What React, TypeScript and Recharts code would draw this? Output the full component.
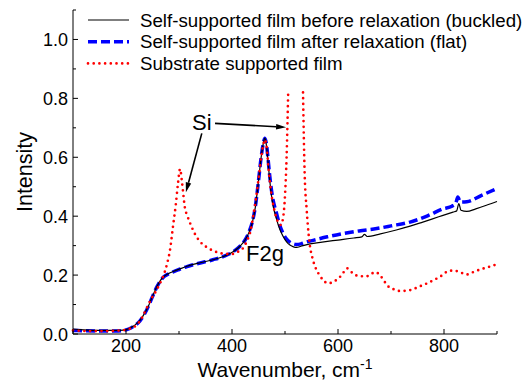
import React from "react";
import {
  LineChart,
  Line,
  XAxis,
  YAxis,
  Legend,
  ReferenceLine,
  ReferenceDot,
} from "recharts";

const FONT = "'Liberation Sans', Arial, Helvetica, sans-serif";

// [wavenumber (cm-1), intensity]
const buckled: [number, number][] = [
  [100, 0.017], [120, 0.014], [150, 0.012], [180, 0.012], [195, 0.013],
  [205, 0.018], [215, 0.028], [226, 0.045], [235, 0.07], [243, 0.098],
  [250, 0.128], [258, 0.16], [265, 0.182], [272, 0.196], [280, 0.205],
  [290, 0.213], [300, 0.22], [315, 0.23], [340, 0.242], [364, 0.252],
  [385, 0.264], [402, 0.279], [415, 0.298], [425, 0.32], [432, 0.345],
  [438, 0.376], [444, 0.43], [450, 0.52], [455, 0.6], [460, 0.655],
  [462, 0.665], [465, 0.64], [468, 0.585], [471, 0.525], [476, 0.45],
  [484, 0.39], [490, 0.356], [496, 0.333], [503, 0.313], [510, 0.301],
  [516, 0.296], [522, 0.294], [530, 0.298], [547, 0.306], [570, 0.312],
  [600, 0.319], [630, 0.326], [645, 0.33], [650, 0.338], [655, 0.331],
  [680, 0.34], [710, 0.353], [736, 0.366], [760, 0.38], [790, 0.398],
  [817, 0.414], [824, 0.418], [828, 0.443], [832, 0.42], [843, 0.416],
  [860, 0.425], [880, 0.437], [900, 0.45],
];

const flat: [number, number][] = [
  [100, 0.012], [120, 0.011], [150, 0.01], [180, 0.01], [195, 0.012],
  [205, 0.017], [215, 0.027], [226, 0.044], [235, 0.068], [243, 0.097],
  [250, 0.127], [258, 0.159], [265, 0.181], [272, 0.195], [280, 0.204],
  [290, 0.212], [300, 0.219], [315, 0.229], [340, 0.241], [364, 0.252],
  [385, 0.264], [402, 0.279], [415, 0.298], [425, 0.32], [432, 0.346],
  [438, 0.378], [444, 0.432], [450, 0.52], [455, 0.6], [460, 0.655],
  [462, 0.665], [465, 0.645], [468, 0.595], [471, 0.54], [476, 0.47],
  [484, 0.41], [490, 0.37], [496, 0.343], [503, 0.322], [510, 0.311],
  [516, 0.306], [522, 0.304], [530, 0.306], [540, 0.312], [553, 0.318],
  [580, 0.33], [610, 0.341], [640, 0.35], [673, 0.358], [700, 0.367],
  [736, 0.38], [770, 0.402], [798, 0.425], [815, 0.434], [822, 0.443],
  [826, 0.465], [831, 0.448], [843, 0.449], [870, 0.47], [900, 0.494],
];

// the Si line near 520 runs off scale, so it is left open
const substrate: [number, number | null][] = [
  [100, 0.012], [130, 0.01], [160, 0.01], [190, 0.012], [205, 0.017],
  [220, 0.03], [230, 0.055], [239, 0.088], [248, 0.12], [258, 0.15],
  [265, 0.175], [270, 0.195], [277, 0.235], [283, 0.285], [289, 0.37],
  [294, 0.44], [298, 0.51], [302, 0.56], [306, 0.51], [311, 0.43],
  [316, 0.4], [321, 0.376], [330, 0.34], [340, 0.313], [352, 0.295],
  [364, 0.283], [377, 0.275], [390, 0.272], [402, 0.272], [412, 0.28],
  [421, 0.292], [428, 0.315], [435, 0.35], [440, 0.4], [446, 0.47],
  [451, 0.54], [456, 0.61], [460, 0.65], [462, 0.66], [465, 0.64],
  [469, 0.56], [474, 0.48], [480, 0.42], [487, 0.38], [492, 0.37],
  [496, 0.39], [500, 0.47], [503, 0.6], [506, 0.82], [520, null],
  [534, 0.82], [537, 0.55], [541, 0.42], [545, 0.33], [553, 0.25],
  [557, 0.228], [565, 0.2], [572, 0.183], [581, 0.172], [594, 0.18],
  [607, 0.2], [617, 0.223], [628, 0.206], [641, 0.196], [654, 0.196],
  [662, 0.203], [670, 0.21], [679, 0.2], [687, 0.18], [694, 0.163],
  [705, 0.152], [717, 0.146], [736, 0.149], [752, 0.16], [768, 0.172],
  [792, 0.194], [811, 0.215], [820, 0.215], [830, 0.21], [843, 0.202],
  [855, 0.21], [868, 0.219], [885, 0.228], [900, 0.237],
];

const seriesNames = [
  "Self-supported film before relaxation (buckled)",
  "Self-supported film after relaxation (flat)",
  "Substrate supported film",
];

const xTicks = [100, 200, 300, 400, 500, 600, 700, 800, 900];
const xLabels = [200, 400, 600, 800];
const yTicks = [0, 0.1, 0.2, 0.3, 0.4, 0.5, 0.6, 0.7, 0.8, 0.9, 1.0, 1.1];
const yLabels = [0, 0.2, 0.4, 0.6, 0.8, 1.0];

const toRows = (pts: [number, number | null][]) =>
  pts.map(([x, y]) => ({ x, y }));

const styles = [
  { stroke: "#000000", strokeWidth: 1.2, dash: undefined, cap: "butt" },
  { stroke: "#0000ff", strokeWidth: 3.5, dash: "9 4", cap: "butt" },
  { stroke: "#ff0000", strokeWidth: 2.7, dash: "0 5.7", cap: "round" },
] as const;

function XTick({ x, y, payload }: any) {
  const major = xLabels.includes(payload.value);
  return (
    <g>
      <line x1={x} x2={x} y1={y} y2={y - (major ? 5 : 3)} stroke="#000" />
      {major && (
        <text x={x} y={y + 18} textAnchor="middle" fontSize={18} fontFamily={FONT} fill="#000">
          {payload.value}
        </text>
      )}
    </g>
  );
}

function YTick({ x, y, payload }: any) {
  const major = yLabels.some((v) => Math.abs(v - payload.value) < 1e-6);
  return (
    <g>
      <line x1={x} x2={x + (major ? 5 : 3)} y1={y} y2={y} stroke="#000" />
      {major && (
        <text x={x - 5} y={y + 6.5} textAnchor="end" fontSize={18} fontFamily={FONT} fill="#000">
          {payload.value.toFixed(1)}
        </text>
      )}
    </g>
  );
}

function LegendBox() {
  return (
    <svg width={530} height={80} style={{ display: "block" }}>
      {seriesNames.map((name, i) => {
        const s = styles[i];
        const cy = 20 + i * 21.7;
        return (
          <g key={name}>
            <line
              x1={88}
              x2={129}
              y1={cy}
              y2={cy}
              stroke={s.stroke}
              strokeWidth={s.strokeWidth}
              strokeDasharray={s.dash}
              strokeLinecap={s.cap}
            />
            <text x={140} y={cy + 6.6} fontSize={18.7} fontFamily={FONT} fill="#000">
              {name}
            </text>
          </g>
        );
      })}
    </svg>
  );
}

function Arrow(props: any) {
  const { x1, y1, x2, y2 } = props;
  const a = Math.atan2(y2 - y1, x2 - x1);
  const len = 10;
  const half = 2.8;
  const bx = x2 - len * Math.cos(a);
  const by = y2 - len * Math.sin(a);
  const pts = [
    `${x2},${y2}`,
    `${bx - half * Math.sin(a)},${by + half * Math.cos(a)}`,
    `${bx + half * Math.sin(a)},${by - half * Math.cos(a)}`,
  ].join(" ");
  return (
    <g>
      <line x1={x1} y1={y1} x2={bx} y2={by} stroke="#000" strokeWidth={1.6} />
      <polygon points={pts} fill="#000" />
    </g>
  );
}

const annotation = (label: string) => (p: any) => (
  <text x={p.cx} y={p.cy} fontSize={22} fontFamily={FONT} fill="#000">
    {label}
  </text>
);

export default function App() {
  return (
    <div style={{ position: "fixed", left: 0, top: 0, background: "#fff" }}>
      <LineChart
        width={530}
        height={384}
        margin={{ top: 10, right: 33, bottom: 0, left: 0 }}
      >
        <XAxis
          dataKey="x"
          type="number"
          domain={[100, 900]}
          ticks={xTicks}
          interval={0}
          height={50}
          tickSize={0}
          tickMargin={0}
          tickLine={false}
          axisLine={{ stroke: "#000", strokeWidth: 1 }}
          tick={<XTick />}
          allowDuplicatedCategory={false}
          label={{
            content: ({ viewBox }: any) => (
              <text
                x={viewBox.x + viewBox.width / 2}
                y={viewBox.y + 43}
                textAnchor="middle"
                fontSize={21}
                fontFamily={FONT}
                fill="#000"
              >
                <tspan>Wavenumber, cm</tspan>
                <tspan dy={-8} fontSize={14}>-1</tspan>
              </text>
            ),
          }}
        />
        <YAxis
          type="number"
          domain={[0, 1.1]}
          ticks={yTicks}
          interval={0}
          width={73}
          tickSize={0}
          tickMargin={0}
          tickLine={false}
          axisLine={{ stroke: "#000", strokeWidth: 1 }}
          tick={<YTick />}
          label={{
            content: ({ viewBox }: any) => {
              const cx = viewBox.x + 31.5;
              const cy = viewBox.y + viewBox.height / 2;
              return (
                <text
                  x={cx}
                  y={cy}
                  transform={`rotate(-90 ${cx} ${cy})`}
                  textAnchor="middle"
                  fontSize={21.5}
                  fontFamily={FONT}
                  fill="#000"
                >
                  Intensity
                </text>
              );
            },
          }}
        />
        <Legend
          layout="vertical"
          align="center"
          verticalAlign="middle"
          wrapperStyle={{ top: 0, left: 0, width: 530, height: 80 }}
          content={() => <LegendBox />}
        />
        <Line
          data={toRows(flat)}
          dataKey="y"
          name={seriesNames[1]}
          type="monotone"
          stroke={styles[1].stroke}
          strokeWidth={styles[1].strokeWidth}
          strokeDasharray={styles[1].dash}
          dot={false}
          activeDot={false}
          isAnimationActive={false}
        />
        <Line
          data={toRows(buckled)}
          dataKey="y"
          name={seriesNames[0]}
          type="monotone"
          stroke={styles[0].stroke}
          strokeWidth={styles[0].strokeWidth}
          dot={false}
          activeDot={false}
          isAnimationActive={false}
        />
        <Line
          data={toRows(substrate)}
          dataKey="y"
          name={seriesNames[2]}
          type="monotone"
          stroke={styles[2].stroke}
          strokeWidth={styles[2].strokeWidth}
          strokeDasharray={styles[2].dash}
          strokeLinecap="round"
          connectNulls={false}
          dot={false}
          activeDot={false}
          isAnimationActive={false}
        />
        <ReferenceLine
          segment={[{ x: 368, y: 0.715 }, { x: 502, y: 0.702 }]}
          ifOverflow="visible"
          shape={Arrow}
        />
        <ReferenceLine
          segment={[{ x: 343, y: 0.681 }, { x: 313, y: 0.481 }]}
          ifOverflow="visible"
          shape={Arrow}
        />
        <ReferenceDot x={324.5} y={0.692} r={0} ifOverflow="visible" shape={annotation("Si")} />
        <ReferenceDot x={426.5} y={0.247} r={0} ifOverflow="visible" shape={annotation("F2g")} />
      </LineChart>
    </div>
  );
}
